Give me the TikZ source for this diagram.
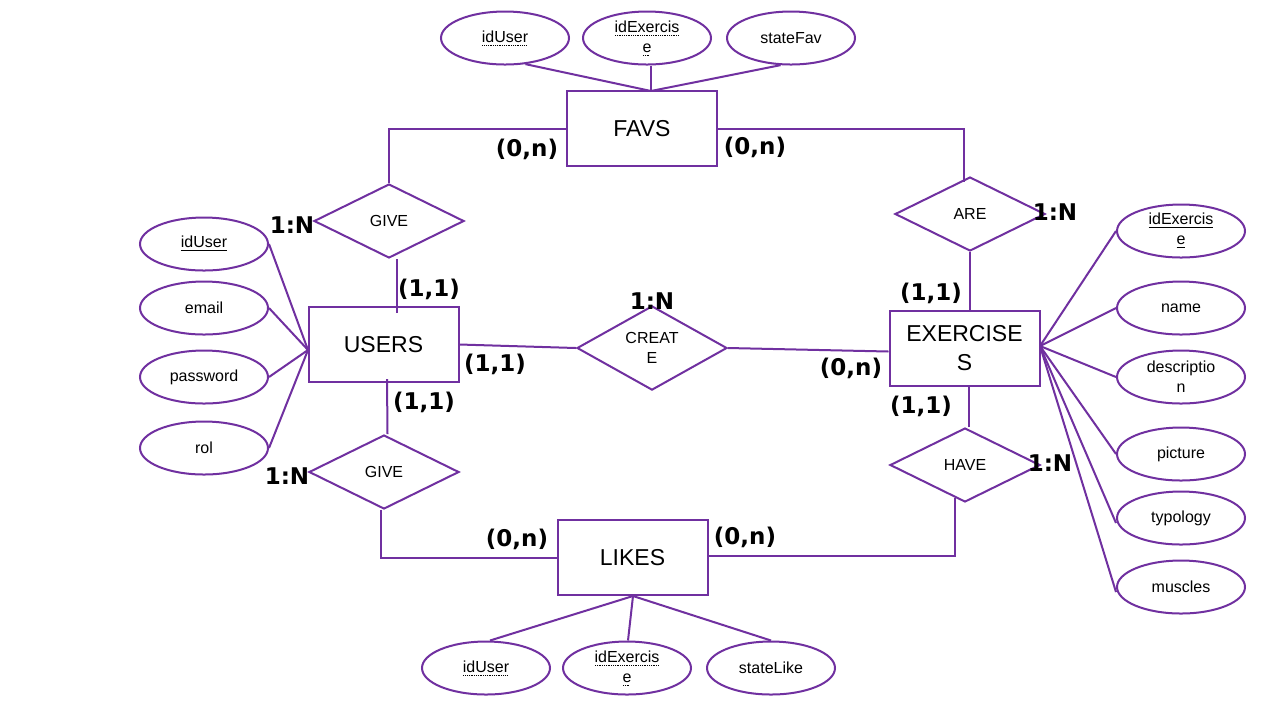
\documentclass[tikz,border=0pt]{standalone}
\usepackage{fontspec}
\setmainfont{Liberation Sans}
\newfontfamily\lblfont{DejaVu Sans}
\usetikzlibrary{shapes.geometric,calc}
\definecolor{erpurple}{RGB}{112,48,160}
\newcommand\dotul[1]{\leavevmode\setbox0\hbox{#1}\rlap{\raisebox{-1.6pt}{\hbox to\wd0{\leaders\hbox to 0.9pt{\hss\rule{0.45pt}{0.4pt}\hss}\hfill}}}\box0}
\tikzset{
  conn/.style={draw=erpurple,line width=1pt},
  entity/.style={draw=erpurple,line width=1pt,rectangle,minimum width=75pt,minimum height=37.5pt,inner sep=1pt,align=center,font=\fontsize{11.5}{14.5}\selectfont},
  attr/.style={draw=erpurple,line width=1pt,ellipse,minimum width=64pt,minimum height=26.5pt,inner sep=0pt,align=center,font=\fontsize{8}{10}\selectfont},
  rel/.style={draw=erpurple,line width=1pt,diamond,minimum width=75pt,minimum height=37pt,inner sep=0pt,align=center,font=\fontsize{8}{10}\selectfont},
  card/.style={font=\lblfont\bfseries\fontsize{11.5}{13}\selectfont,inner sep=0pt}
}
\begin{document}
\begin{tikzpicture}[x=0.5pt,y=-0.5pt]
\path[use as bounding box,fill=white] (0,0) rectangle (1280,720);

% entities
\node[entity] (favs) at (642,128.5) {FAVS};
\node[entity] (users) at (383.5,344.5) {USERS};
\node[entity] (exer) at (964.5,348.5) {EXERCISE\\S};
\node[entity] (likes) at (632.5,557.5) {LIKES};

% relationships
\node[rel] (give1) at (389,221) {GIVE};
\node[rel] (are) at (970,214) {ARE};
\node[rel] (create) at (652,348) {CREAT\\E};
\node[rel] (give2) at (384,472) {GIVE};
\node[rel] (have) at (965,465) {HAVE};

% FAVS attributes
\node[attr] (fu) at (505,38) {\dotul{idUser}};
\node[attr] (fe) at (647,38) {\dotul{idExercis}\\\dotul{e}};
\node[attr] (fs) at (791,38) {stateFav};
\coordinate (favtop) at (651,91);
\draw[conn] (fu.-52) -- (favtop);
\draw[conn] ([xshift=2pt]fe.south) -- (favtop);
\draw[conn] (fs.-111) -- (favtop);

% USERS attributes
\node[attr] (uid) at (204,244) {\underline{idUser}};
\node[attr] (uem) at (204,308) {email};
\node[attr] (upw) at (204,377) {password};
\node[attr] (url) at (204,448) {rol};
\coordinate (uhub) at (308,350);
\foreach \a in {uid,uem,upw,url} \draw[conn] (\a.east) -- (uhub);

% EXERCISES attributes
\node[attr] (eid) at (1181,231) {\underline{idExercis}\\\underline{e}};
\node[attr] (enm) at (1181,308) {name};
\node[attr] (eds) at (1181,377) {descriptio\\n};
\node[attr] (epc) at (1181,454) {picture};
\node[attr] (ety) at (1181,518) {typology};
\node[attr] (ems) at (1181,587) {muscles};
\coordinate (ehub) at (1040,346);
\foreach \a in {eid,enm,eds,epc} \draw[conn] (ehub) -- (\a.west);
\draw[conn] (ehub) -- ([yshift=-2.5pt]ety.west);
\draw[conn] (ehub) -- ([yshift=-2.5pt]ems.west);

% LIKES attributes
\node[attr] (lu) at (486,668) {\dotul{idUser}};
\node[attr] (le) at (627,668) {\dotul{idExercis}\\\dotul{e}};
\node[attr] (ls) at (771,668) {stateLike};
\coordinate (likebot) at (633,596);
\draw[conn] (likebot) -- ([xshift=2pt]lu.north);
\draw[conn] (likebot) -- ([xshift=0.5pt]le.north);
\draw[conn] (likebot) -- (ls.north);

% relationship connectors
\draw[conn] (favs.west) -| (give1.north);
\draw[conn] ([xshift=4pt]give1.south) -- ++(0,54);
\draw[conn] (favs.east) -| ([xshift=-3pt,yshift=-3pt]are.north);
\draw[conn] (are.south) -- (are.south |- exer.north);
\draw[conn] (users.east) -- (create.west);
\draw[conn] (create.east) -- ([yshift=-1.5pt]exer.west);
\draw[conn] ([xshift=1.75pt,yshift=2pt]users.south) -- ([xshift=1.75pt]give2.north);
\draw[conn] ([xshift=-1.5pt]give2.south) |- (likes.west);
\draw[conn] ([xshift=2pt]have.north) -- ([xshift=2pt]have.north |- exer.south);
\draw[conn] ([yshift=0.75pt]likes.east) -| ([xshift=-5pt,yshift=2.5pt]have.south);

% cardinalities
\node[card] (c1) at (527,149) {(0,n)};
\node[card] (c2) at (755,147) {(0,n)};
\node[card] (c3) at (292,225) {1:N};
\node[card] (c4) at (1055,212) {1:N};
\node[card] (c5) at (429,289) {(1,1)};
\node[card] (c6) at (931,293) {(1,1)};
\node[card] (c7) at (652,301) {1:N};
\node[card] (c8) at (495,364) {(1,1)};
\node[card] (c9) at (851,368) {(0,n)};
\node[card] (c10) at (424,402) {(1,1)};
\node[card] (c11) at (921,406) {(1,1)};
\node[card] (c12) at (287,476) {1:N};
\node[card] (c13) at (1050,463) {1:N};
\node[card] (c14) at (517,539) {(0,n)};
\node[card] (c15) at (745,537) {(0,n)};
\end{tikzpicture}
\end{document}
